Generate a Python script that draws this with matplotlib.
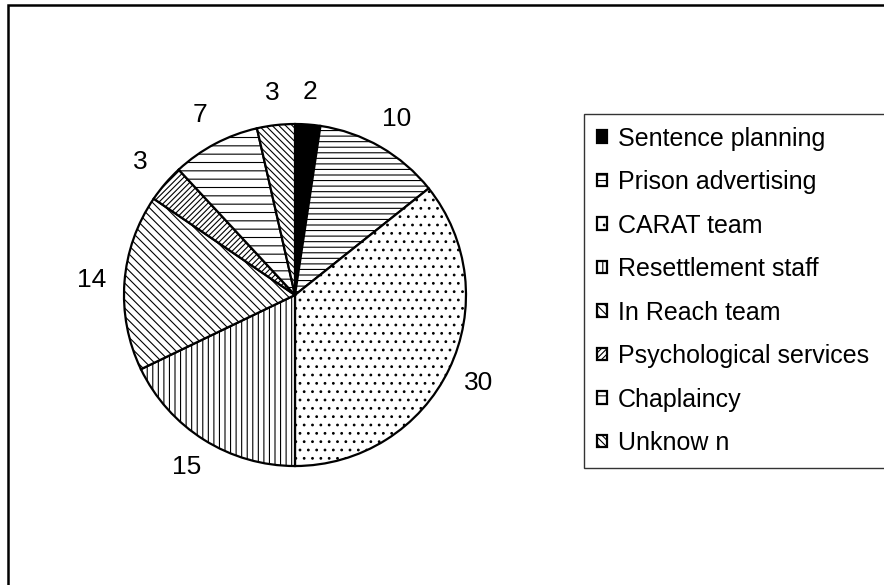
import matplotlib.pyplot as plt
import matplotlib.patches as mpatches

# data
labels = ["Sentence planning", "Prison advertising", "CARAT team", "Resettlement staff",
          "In Reach team", "Psychological services", "Chaplaincy", "Unknow n"]
values = [2, 10, 30, 15, 14, 3, 7, 3]

# fill patterns for the black-and-white slices
hatches = ["", "---", "..", "|||", "\\\\\\\\", "//////", "--", "\\\\\\\\\\"]
faces = ["black", "white", "white", "white", "white", "white", "white", "white"]

plt.rcParams['font.family'] = ['Liberation Sans', 'DejaVu Sans']
plt.rcParams['hatch.linewidth'] = 0.8

fig = plt.figure(figsize=(8.84, 5.85), dpi=100)
ax = fig.add_axes([0.0919, 0.1303, 0.4836, 0.7308])

wedges, texts = ax.pie(values, labels=[str(v) for v in values], startangle=90,
                       counterclock=False, labeldistance=1.19,
                       wedgeprops=dict(edgecolor="black", linewidth=1.6),
                       textprops=dict(fontsize=19))
for w, h, fc in zip(wedges, hatches, faces):
    w.set_facecolor(fc)
    w.set_hatch(h)
for t in texts:
    t.set_horizontalalignment("center")
    t.set_verticalalignment("center")

leg = ax.legend(wedges, labels, loc="upper left",
                bbox_to_anchor=(584 / 884, (585 - 470) / 585, 0.4, (470 - 114) / 585),
                bbox_transform=fig.transFigure, mode="expand",
                fontsize=18, frameon=True, fancybox=False, edgecolor="black",
                handlelength=0.4, handleheight=0.4, handletextpad=0.45,
                labelspacing=0.78, borderpad=0.5, borderaxespad=0)
leg.get_frame().set_linewidth(1.0)

# outer chart border (only top and left edges visible)
fig.patches.append(mpatches.Rectangle((8 / 884, -0.1), 1.2, (585 - 5) / 585 + 0.1,
                                      transform=fig.transFigure, fill=False,
                                      edgecolor="black", linewidth=1.8))

fig.savefig("out.png", dpi=100)
